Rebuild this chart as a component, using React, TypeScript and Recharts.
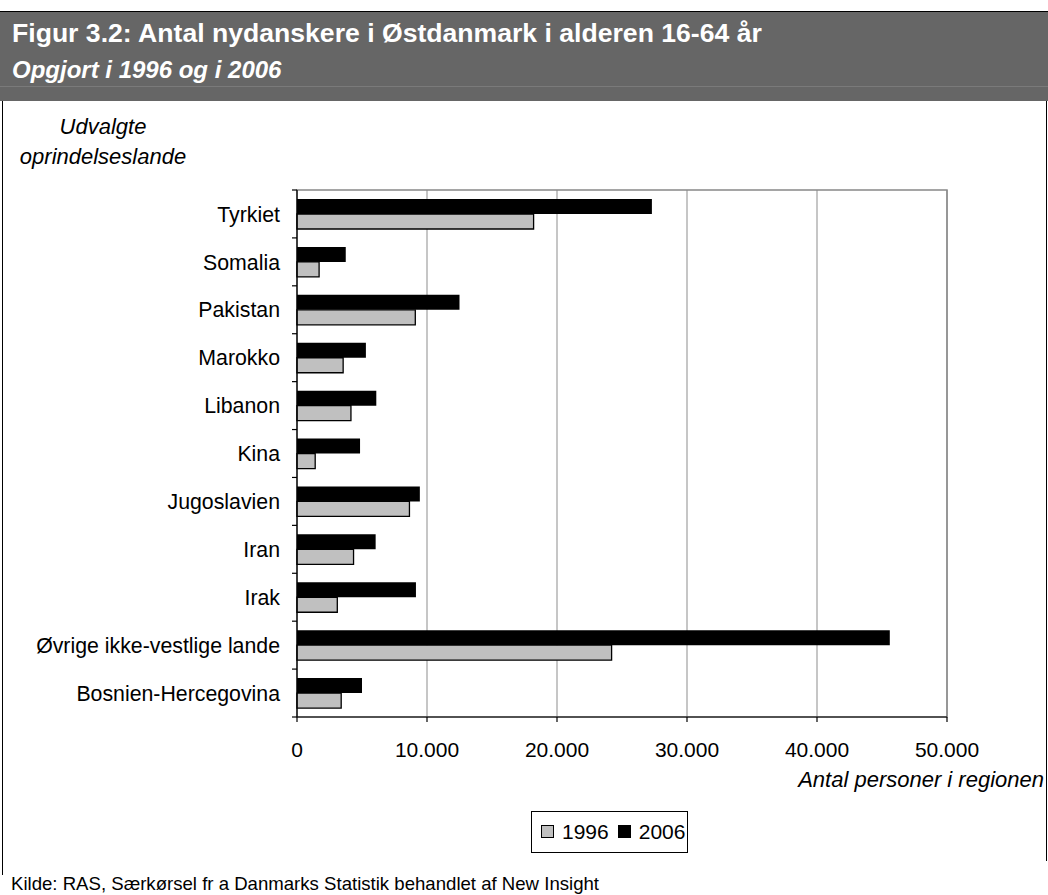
import { BarChart, Bar, XAxis, YAxis, CartesianGrid, ReferenceArea } from 'recharts'

const F = '"Liberation Sans", Arial, Helvetica, sans-serif'

// oprindelseslande, top to bottom as drawn
const COUNTRIES = [
  'Tyrkiet', 'Somalia', 'Pakistan', 'Marokko', 'Libanon', 'Kina',
  'Jugoslavien', 'Iran', 'Irak', 'Øvrige ikke-vestlige lande', 'Bosnien-Hercegovina',
]
const Y1996 = [18200, 1700, 9100, 3550, 4150, 1400, 8650, 4350, 3100, 24200, 3400]
const Y2006 = [27300, 3750, 12500, 5300, 6100, 4850, 9450, 6050, 9150, 45600, 5000]
const X_TICKS = [0, 10000, 20000, 30000, 40000, 50000]

const data = COUNTRIES.map((name, i) => ({ name, y1996: Y1996[i], y2006: Y2006[i] }))

// plot box in page pixels
const PLOT_LEFT = 297
const PLOT_RIGHT = 947
const PLOT_TOP = 190
const PLOT_BOTTOM = 717
const W = 1048
const H = 895
const BAND = (PLOT_BOTTOM - PLOT_TOP) / COUNTRIES.length

const fmt = (v: number) => String(v).replace(/\B(?=(\d{3})+(?!\d))/g, '.')

function CountryTick(props: any) {
  const { y, payload, index } = props
  return (
    <g>
      <line x1={PLOT_LEFT - 5} x2={PLOT_LEFT} y1={y - BAND / 2} y2={y - BAND / 2} stroke="#000" strokeWidth={1.2} />
      {index === COUNTRIES.length - 1 && (
        <line x1={PLOT_LEFT - 5} x2={PLOT_LEFT} y1={y + BAND / 2} y2={y + BAND / 2} stroke="#000" strokeWidth={1.2} />
      )}
      <text x={PLOT_LEFT - 17} y={y} dy="0.36em" textAnchor="end" fontFamily={F} fontSize={21.3} fill="#000">
        {payload.value}
      </text>
    </g>
  )
}

function Swatch({ color }: { color: string }) {
  return (
    <span style={{
      display: 'inline-block', width: 11, height: 11, background: color,
      border: '1px solid #000', marginRight: 8, verticalAlign: 'middle', position: 'relative', top: -2,
    }} />
  )
}

export default function App() {
  return (
    <div style={{ position: 'absolute', left: 0, top: 0, width: W, height: H, background: '#fff', overflow: 'hidden', fontFamily: F }}>
      {/* header */}
      <div style={{ position: 'absolute', left: 0, top: 11, width: W, height: 90, background: '#666666', borderTop: '1.5px solid #000', boxSizing: 'border-box' }}>
        <div style={{ position: 'absolute', left: 0, top: 74, width: W, height: 1, background: '#7a7a7a' }} />
        <div style={{ position: 'absolute', left: 12, top: 6, color: '#fff', fontWeight: 700, fontSize: 26.6, lineHeight: '30px', whiteSpace: 'nowrap' }}>
          Figur 3.2: Antal nydanskere i Østdanmark i alderen 16-64 år
        </div>
        <div style={{ position: 'absolute', left: 12, top: 44, color: '#fff', fontWeight: 700, fontStyle: 'italic', fontSize: 24, lineHeight: '28px', whiteSpace: 'nowrap' }}>
          Opgjort i 1996 og i 2006
        </div>
      </div>

      {/* frame sides */}
      <div style={{ position: 'absolute', left: 2, top: 101, width: 1, height: 774, background: '#000' }} />
      <div style={{ position: 'absolute', left: 1046, top: 101, width: 1, height: 760, background: '#000' }} />

      <div style={{ position: 'absolute', left: 0, top: 112, width: 206, textAlign: 'center', fontStyle: 'italic', fontSize: 22, lineHeight: '30px' }}>
        Udvalgte<br />oprindelseslande
      </div>

      <div style={{ position: 'absolute', left: 0, top: 0 }}>
        <BarChart
          width={W}
          height={H}
          layout="vertical"
          data={data}
          margin={{ top: PLOT_TOP, right: W - PLOT_RIGHT, bottom: H - PLOT_BOTTOM - 40, left: 7 }}
          barGap={0}
          barSize={15}
        >
          <CartesianGrid horizontal={false} stroke="#b3b3b3" strokeWidth={1.5} />
          <ReferenceArea x1={0} x2={50000} fill="none" stroke="#888" strokeWidth={1.5} ifOverflow="visible" />
          <XAxis
            type="number"
            domain={[0, 50000]}
            ticks={X_TICKS}
            tickFormatter={fmt}
            tick={{ fontFamily: F, fontSize: 21, fill: '#000' }}
            axisLine={{ stroke: '#000', strokeWidth: 1.2 }}
            tickLine={{ stroke: '#000', strokeWidth: 1.2 }}
            tickSize={5}
            tickMargin={20}
            height={40}
          />
          <YAxis
            type="category"
            dataKey="name"
            width={290}
            interval={0}
            axisLine={{ stroke: '#000', strokeWidth: 1.2 }}
            tickLine={false}
            tick={<CountryTick />}
          />
          <Bar dataKey="y2006" fill="#000" isAnimationActive={false} />
          <Bar dataKey="y1996" fill="#c0c0c0" stroke="#000" strokeWidth={1.3} isAnimationActive={false} />
        </BarChart>
      </div>

      <div style={{ position: 'absolute', right: 4, top: 766, fontStyle: 'italic', fontSize: 22, lineHeight: '28px', whiteSpace: 'nowrap' }}>
        Antal personer i regionen
      </div>

      {/* legend */}
      <div style={{
        position: 'absolute', left: 531, top: 811, width: 157, height: 42, boxSizing: 'border-box',
        border: '1px solid #000', background: '#fff', fontSize: 21, lineHeight: '40px', paddingLeft: 9, whiteSpace: 'nowrap',
      }}>
        <Swatch color="#c0c0c0" /><span style={{ marginRight: 9 }}>1996</span><Swatch color="#000" />2006
      </div>

      <div style={{ position: 'absolute', left: 11, top: 873, fontSize: 18.6, lineHeight: '22px', whiteSpace: 'nowrap' }}>
        Kilde: RAS, Særkørsel fr a Danmarks Statistik behandlet af New Insight
      </div>
    </div>
  )
}
